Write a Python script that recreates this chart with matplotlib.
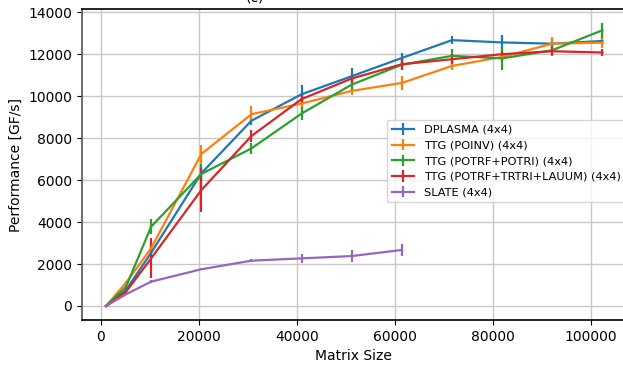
import matplotlib
matplotlib.use("Agg")
from matplotlib import pyplot as plt

# Matrix sizes (N = 1024 * k)
sizes = [1024, 5120, 10240, 20480, 30720, 40960, 51200, 61440,
         71680, 81920, 92160, 102400]
slate_sizes = sizes[:8]

dplasma = [0, 760, 2540, 6320, 8830, 10090, 10950, 11820, 12670, 12560, 12500, 12630]
dplasma_err = [0, 80, 200, 300, 200, 450, 400, 250, 200, 350, 200, 200]

poinv = [0, 1110, 2750, 7240, 9140, 9650, 10250, 10630, 11440, 11870, 12500, 12550]
poinv_err = [0, 80, 250, 450, 400, 400, 200, 350, 200, 200, 300, 250]

potrf_potri = [0, 920, 3780, 6290, 7510, 9170, 10550, 11500, 11920, 11800, 12190, 13140]
potrf_potri_err = [0, 80, 350, 500, 250, 300, 250, 250, 350, 550, 300, 350]

potrf_trtri = [0, 680, 2270, 5520, 8100, 9860, 10840, 11520, 11760, 12000, 12140, 12080]
potrf_trtri_err = [0, 80, 950, 1050, 300, 250, 200, 250, 250, 150, 200, 150]

slate = [0, 560, 1160, 1750, 2160, 2270, 2380, 2670]
slate_err = [0, 40, 60, 50, 80, 200, 280, 300]

fig = plt.figure(figsize=(6.23, 3.65), dpi=100)
ax = fig.add_axes([0.1316, 0.1233, 0.8700, 0.8507])

series = [
    (sizes, dplasma, dplasma_err, 'DPLASMA (4x4)', '#1f77b4'),
    (sizes, poinv, poinv_err, 'TTG (POINV) (4x4)', '#ff7f0e'),
    (sizes, potrf_potri, potrf_potri_err, 'TTG (POTRF+POTRI) (4x4)', '#2ca02c'),
    (sizes, potrf_trtri, potrf_trtri_err, 'TTG (POTRF+TRTRI+LAUUM) (4x4)', '#d62728'),
    (slate_sizes, slate, slate_err, 'SLATE (4x4)', '#9467bd'),
]
for x, y, e, label, c in series:
    ax.errorbar(x, y, yerr=e, label=label, color=c, linewidth=1.6,
                elinewidth=1.6, capsize=0)

ax.set_xlim(-3878, 106800)
ax.set_ylim(-667, 14130)
ax.set_yticks(range(0, 14001, 2000))
ax.set_xticks(range(0, 100001, 20000))
ax.grid(True, color='#c8c8c8', linewidth=1)
ax.set_axisbelow(True)

ax.spines['right'].set_visible(False)
ax.spines['left'].set_color('#555555')
ax.spines['left'].set_linewidth(1.2)
ax.spines['bottom'].set_linewidth(1.2)
ax.spines['top'].set_linewidth(1.2)

ax.set_xlabel('Matrix Size', fontsize=10)
ax.set_ylabel('Performance [GF/s]', fontsize=10)
ax.tick_params(axis='both', labelsize=10)

ax.legend(loc='upper left', bbox_to_anchor=(0.563, 0.643), fontsize=8.2,
          frameon=True, borderaxespad=0, handlelength=2)

fig.text(0.41, 1 - 1.5 / 365, '(c)', fontsize=10, ha='center', va='baseline')

fig.savefig('out.png', dpi=100)
